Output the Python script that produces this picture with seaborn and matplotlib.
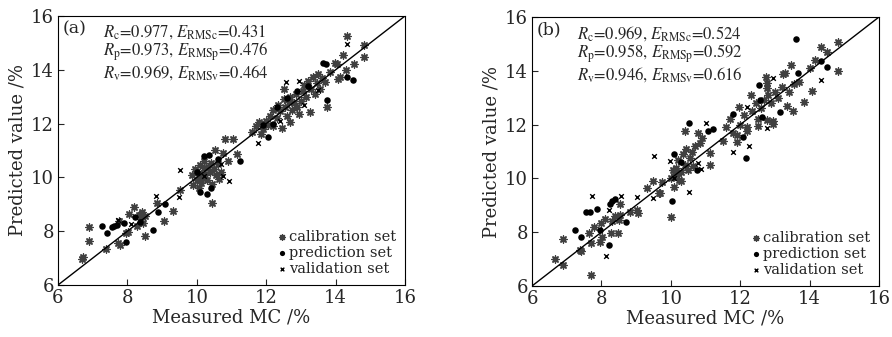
import matplotlib
matplotlib.use("Agg")
import matplotlib.pyplot as plt
import seaborn as sns
import pandas as pd

# ---------------- data: panel (a) ----------------
a_cal_x = [6.69, 6.72, 6.88, 6.88, 7.38, 7.75, 7.73, 7.79, 7.96, 8.02, 8.19, 8.04, 8.32, 8.38, 8.42, 8.46,
           8.50, 8.28, 8.50, 8.85, 9.05, 9.31, 9.52,
           9.85, 9.95, 10.00, 10.05, 10.10, 10.12, 10.15, 10.20, 10.22, 10.25, 10.30, 10.32, 10.38, 10.40,
           10.45, 10.50, 10.55, 10.60, 10.65, 10.70, 10.43, 10.81, 11.03, 11.15, 10.52, 10.75, 10.90, 10.05, 9.90,
           11.60, 11.70, 11.80, 11.90, 12.00, 12.05, 11.85, 12.10, 12.20, 12.30, 12.35, 12.40, 12.50, 12.51,
           12.55, 12.60, 12.65, 12.70, 12.75, 12.80, 12.85, 12.90, 12.95, 13.00, 13.05, 13.10, 13.15, 13.20,
           13.26, 13.30, 13.35, 13.40, 13.45, 13.50, 13.55, 13.60, 13.70, 13.74, 13.84, 13.98, 14.03, 14.07,
           14.13, 14.20, 14.30, 14.33, 14.53, 14.82, 14.82, 12.20, 12.45, 12.70]
a_cal_y = [6.97, 7.04, 8.16, 7.64, 7.34, 8.38, 7.56, 7.49, 7.93, 7.97, 8.90, 8.64, 8.62, 8.45, 8.70, 8.30,
           8.55, 8.20, 7.82, 9.05, 8.38, 8.75, 9.53,
           10.10, 10.30, 9.90, 10.15, 10.45, 9.80, 10.00, 10.35, 10.60, 10.10, 9.90, 10.40, 10.20, 10.55,
           9.75, 10.30, 10.10, 10.50, 9.95, 10.20, 9.05, 11.43, 11.43, 10.87, 11.02, 10.90, 10.60, 9.60, 9.70,
           11.70, 11.90, 12.05, 11.80, 12.10, 11.95, 11.60, 12.30, 12.50, 12.20, 12.70, 12.45, 12.90, 13.29,
           12.60, 12.30, 12.80, 13.00, 12.50, 12.75, 13.10, 12.60, 12.35, 12.85, 13.20, 13.45, 13.00, 13.60,
           12.44, 13.30, 13.75, 13.10, 13.50, 13.85, 13.30, 13.70, 13.55, 12.62, 13.93, 14.25, 14.20, 13.66,
           13.74, 14.56, 14.00, 15.26, 14.22, 14.92, 14.48, 11.90, 11.85, 12.05]
a_pre_x = [7.27, 7.41, 7.56, 7.62, 7.70, 7.89, 7.96, 8.21, 8.36, 8.74, 8.88, 9.07, 10.10, 10.28, 10.35,
           11.24, 10.00, 10.20, 10.40, 10.60, 12.05, 12.30, 12.60, 12.90, 13.64, 13.72, 14.32, 14.50, 13.74,
           13.20, 12.20, 11.90]
a_pre_y = [8.19, 7.93, 8.16, 8.19, 8.24, 8.30, 7.60, 8.53, 8.35, 8.04, 8.70, 9.00, 9.47, 9.38, 10.83,
           10.62, 10.20, 10.80, 9.60, 10.70, 11.50, 12.60, 12.95, 13.20, 14.25, 14.20, 13.74, 13.62, 12.88,
           13.40, 12.00, 11.95]
a_val_x = [8.82, 9.50, 9.52, 10.93, 11.76, 12.57, 12.95, 14.33, 10.70, 12.40, 13.10, 8.10, 10.20, 13.50,
           10.75, 7.73]
a_val_y = [9.30, 9.27, 10.28, 9.87, 11.28, 13.56, 13.58, 14.96, 10.50, 12.10, 12.70, 8.25, 10.05, 13.25,
           10.05, 8.42]

# ---------------- data: panel (b) ----------------
b_cal_x = [6.67, 6.88, 6.88, 7.38, 7.41, 7.69, 7.64, 7.70, 7.78, 7.96, 8.02, 8.53, 8.27, 8.48, 8.00, 8.10,
           8.30, 8.40, 8.50, 8.55, 8.82, 9.03, 9.05, 9.31, 9.65, 9.75, 9.50, 9.69, 10.10, 10.00,
           10.41, 10.79, 10.89, 10.84, 10.10, 10.15, 10.20, 10.25, 10.30, 10.35, 10.40, 10.45, 10.50, 10.55,
           10.60, 10.65, 10.70, 10.00, 10.05, 10.20, 11.13, 11.13, 10.30,
           11.50, 11.60, 11.70, 11.80, 11.90, 11.97, 12.00, 12.10, 12.20, 12.30, 12.35, 12.45, 12.50, 12.74,
           12.76, 12.76, 12.60, 12.70, 12.80, 12.90, 13.00, 13.10, 13.20, 13.22, 13.29, 13.34, 13.40, 13.46,
           13.51, 13.55, 13.70, 13.84, 14.01, 14.06, 14.16, 14.33, 14.50, 14.81, 14.81, 12.95, 12.76, 12.95,
           11.90, 12.20, 12.50]
b_cal_y = [7.00, 6.78, 7.75, 7.34, 7.30, 6.42, 7.98, 7.61, 8.20, 7.65, 7.83, 9.05, 7.97, 7.97, 8.35, 8.50,
           8.40, 8.60, 8.45, 8.65, 8.76, 8.83, 8.71, 9.64, 9.47, 9.88, 9.90, 9.47, 9.68, 8.56,
           11.77, 11.69, 11.50, 11.32, 10.10, 10.40, 10.70, 9.95, 10.25, 10.90, 10.50, 11.10, 10.30, 10.75,
           11.00, 10.45, 11.20, 10.00, 10.30, 10.20, 10.50, 10.93, 9.90,
           11.40, 11.90, 12.20, 11.70, 11.36, 12.65, 12.00, 12.35, 11.90, 13.10, 12.50, 12.80, 12.20, 13.77,
           13.56, 13.36, 12.60, 12.90, 13.10, 12.80, 13.20, 13.00, 13.40, 13.88, 13.90, 12.69, 13.20, 14.22,
           12.52, 13.50, 13.60, 12.85, 14.09, 13.26, 14.40, 14.88, 14.70, 15.06, 14.00, 12.15, 12.17, 12.02,
           11.60, 11.75, 11.95]
b_pre_x = [7.24, 7.41, 7.56, 7.67, 7.87, 7.96, 8.21, 8.25, 8.30, 8.38, 8.71, 10.03, 10.52, 11.07, 11.22,
           10.75, 10.30, 12.17, 13.60, 14.49, 14.32, 13.67, 12.55, 12.57, 13.15, 12.62, 12.08, 11.80, 10.10]
b_pre_y = [8.08, 7.82, 8.76, 8.75, 8.86, 8.08, 7.52, 9.05, 9.17, 9.23, 8.39, 9.17, 12.06, 11.77, 11.84,
           10.31, 10.60, 10.75, 15.18, 14.13, 14.38, 13.93, 13.47, 12.91, 12.48, 12.28, 11.54, 12.40, 10.90]
b_val_x = [7.73, 8.13, 8.21, 8.57, 9.03, 9.50, 9.52, 9.98, 10.52, 10.79, 10.87, 11.78, 12.25, 14.33, 12.94,
           12.19, 12.76, 11.00, 10.10]
b_val_y = [9.35, 7.13, 8.83, 9.35, 9.30, 9.27, 10.83, 10.66, 9.50, 10.58, 10.35, 10.99, 11.20, 13.66, 13.74,
           12.65, 11.87, 12.05, 10.00]

set_names = ["calibration set", "prediction set", "validation set"]
panel_labels = ["(a)", "(b)"]
stats_text = [
    [r"$R_{\rm c}$=0.977, $E_{\rm RMSc}$=0.431",
     r"$R_{\rm p}$=0.973, $E_{\rm RMSp}$=0.476",
     r"$R_{\rm v}$=0.969, $E_{\rm RMSv}$=0.464"],
    [r"$R_{\rm c}$=0.969, $E_{\rm RMSc}$=0.524",
     r"$R_{\rm p}$=0.958, $E_{\rm RMSp}$=0.592",
     r"$R_{\rm v}$=0.946, $E_{\rm RMSv}$=0.616"],
]
ticks = [6, 8, 10, 12, 14, 16]


def make_df(cx, cy, px, py, vx, vy):
    rows = []
    for xs, ys, name in ((cx, cy, set_names[0]), (px, py, set_names[1]), (vx, vy, set_names[2])):
        for x, y in zip(xs, ys):
            rows.append({"measured": x, "predicted": y, "set": name})
    return pd.DataFrame(rows)


dfs = [make_df(a_cal_x, a_cal_y, a_pre_x, a_pre_y, a_val_x, a_val_y),
       make_df(b_cal_x, b_cal_y, b_pre_x, b_pre_y, b_val_x, b_val_y)]

sns.set_style("white")
plt.rcParams["font.family"] = ["DejaVu Serif"]
plt.rcParams["mathtext.fontset"] = "stix"

fig = plt.figure(figsize=(8.92, 3.37), dpi=100)
axes = [fig.add_axes([58 / 892, 52 / 337, 347 / 892, 269 / 337]),
        fig.add_axes([532 / 892, 51 / 337, 347 / 892, 269 / 337])]

styles = {
    set_names[0]: dict(marker=(8, 2, 0), s=26, linewidth=1.0, color="#404040", edgecolor="#404040"),
    set_names[1]: dict(marker="o", s=22, linewidth=0, color="black"),
    set_names[2]: dict(marker="x", s=11, linewidth=1.0, color="black"),
}

for i, ax in enumerate(axes):
    df = dfs[i]
    for name in set_names:
        sub = df[df["set"] == name]
        sns.scatterplot(data=sub, x="measured", y="predicted", ax=ax, label=name, **styles[name])
    ax.plot([6, 16], [6, 16], color="black", lw=1.0, zorder=5)
    ax.set_xlim(6, 16)
    ax.set_ylim(6, 16)
    ax.set_xticks(ticks)
    ax.set_yticks(ticks)
    ax.tick_params(direction="in", length=4, width=0.8, labelsize=13, pad=3,
                   bottom=True, left=True, top=False, right=False)
    for sp in ax.spines.values():
        sp.set_color("black")
        sp.set_linewidth(0.8)
    ax.set_xlabel("Measured MC /%", fontsize=13, labelpad=1)
    ax.set_ylabel("Predicted value /%", fontsize=13, labelpad=3)
    ax.text(0.012, 0.985, panel_labels[i], transform=ax.transAxes, ha="left", va="top", fontsize=12.5)
    ax.text(0.13, 0.975, "\n".join(stats_text[i]), transform=ax.transAxes, ha="left", va="top",
            fontsize=12, family="STIXGeneral", linespacing=1.0)
    leg = ax.legend(loc="lower right", frameon=False, fontsize=10.5, handletextpad=0.0,
                    labelspacing=0.15, borderaxespad=0.2, handlelength=1.0, markerscale=0.8)

fig.savefig("out.png", dpi=100)
